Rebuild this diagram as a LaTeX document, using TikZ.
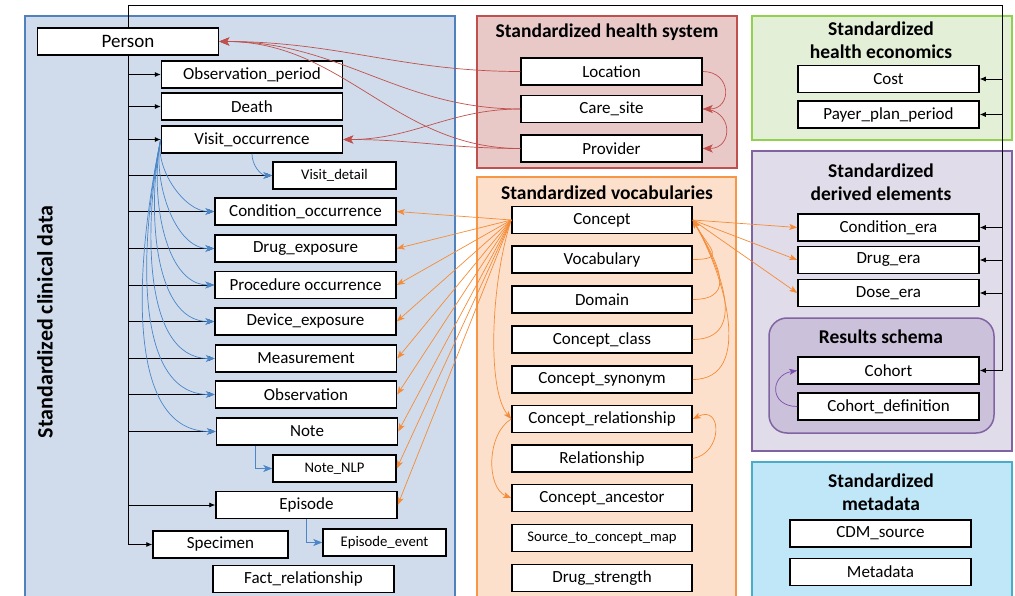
\documentclass[tikz,border=0pt]{standalone}
\usepackage{fontspec}
\setmainfont{Carlito}
\usetikzlibrary{arrows.meta}

\definecolor{clinfill}{HTML}{D0DCEC}
\definecolor{clinline}{HTML}{4F81BD}
\definecolor{hsfill}{HTML}{E9C9C8}
\definecolor{hsline}{HTML}{C0504D}
\definecolor{vocfill}{HTML}{FCE0CC}
\definecolor{vocline}{HTML}{F79646}
\definecolor{econfill}{HTML}{E3EFD7}
\definecolor{econline}{HTML}{92D050}
\definecolor{derfill}{HTML}{E1DCE9}
\definecolor{derline}{HTML}{8064A2}
\definecolor{resfill}{HTML}{CCC1DA}
\definecolor{metafill}{HTML}{C0E7F8}
\definecolor{metaline}{HTML}{4BACC6}
\definecolor{bluelink}{HTML}{4A86C8}
\definecolor{redlink}{HTML}{C0504D}
\definecolor{orlink}{HTML}{F58B36}
\definecolor{purlink}{HTML}{7A4FB0}

\tikzset{
  tbl/.style={draw=black, line width=1.5pt, fill=white, inner sep=0pt,
    minimum width=181pt, minimum height=27pt, font=\fontsize{17}{19}\selectfont},
  smalltbl/.style={tbl, minimum width=123pt, font=\fontsize{14.7}{16}\selectfont},
  grouptitle/.style={font=\bfseries\fontsize{19.5}{23}\selectfont, align=center},
  trunk/.style={black, line width=0.8pt},
  trunkarr/.style={trunk, -{Latex[length=6pt,width=5pt]}},
  bluelnk/.style={bluelink, line width=0.7pt, -{Stealth[length=9pt,width=7pt,inset=2.5pt]}},
  redlnk/.style={redlink, line width=0.7pt, -{Stealth[length=10pt,width=8pt,inset=2.5pt]}},
  orlnk/.style={orlink, line width=0.7pt, -{Stealth[length=8pt,width=6pt,inset=2pt]}},
  purlnk/.style={purlink, line width=0.7pt, -{Stealth[length=8pt,width=6pt,inset=2pt]}}
}

\begin{document}
\begin{tikzpicture}[x=1pt,y=-1pt]

\useasboundingbox (0,0) rectangle (1015,596);
\clip (0,0) rectangle (1015,596);

% group panels
\filldraw[fill=clinfill,draw=clinline,line width=1.5pt] (25,16) rectangle (455,605);
\filldraw[fill=hsfill,draw=hsline,line width=1.5pt] (477,16) rectangle (737,168);
\filldraw[fill=vocfill,draw=vocline,line width=1.5pt] (477,177) rectangle (736,605);
\filldraw[fill=econfill,draw=econline,line width=1.5pt] (752,16) rectangle (1012,140);
\filldraw[fill=derfill,draw=derline,line width=1.5pt] (752,151) rectangle (1012,451);
\filldraw[fill=resfill,draw=derline,line width=1.5pt,rounded corners=18pt] (769,318) rectangle (994,433);
\filldraw[fill=metafill,draw=metaline,line width=1.5pt] (752,462) rectangle (1012,605);

\node[grouptitle,font=\bfseries\fontsize{22}{24}\selectfont,rotate=90] (clintitle) at (45,322) {Standardized clinical data};
\node[grouptitle] (hstitle) at (607,32) {Standardized health system};
\node[grouptitle] (voctitle) at (607,193) {Standardized vocabularies};
\node[grouptitle] (econtitle) at (881,40) {Standardized\\health economics};
\node[grouptitle] (dertitle) at (881,182) {Standardized\\derived elements};
\node[grouptitle] (restitle) at (881,337) {Results schema};
\node[grouptitle] (metatitle) at (881,492) {Standardized\\metadata};

% clinical data tables
\node[tbl,font=\fontsize{19}{21}\selectfont] (person) at (128,41.5) {Person};
\node[tbl] (obsper) at (252,74.5) {Observation\_period};
\node[tbl] (death) at (252,106.5) {Death};
\node[tbl] (visitocc) at (252,139.5) {Visit\_occurrence};
\node[smalltbl] (visitdet) at (334.5,175.5) {Visit\_detail};
\node[tbl] (condocc) at (305.5,211.5) {Condition\_occurrence};
\node[tbl] (drugexp) at (305.5,248.5) {Drug\_exposure};
\node[tbl] (prococc) at (305.5,285) {Procedure occurrence};
\node[tbl] (devexp) at (305.5,321.5) {Device\_exposure};
\node[tbl] (meas) at (306,358.5) {Measurement};
\node[tbl] (obs) at (306,394.5) {Observation};
\node[tbl] (note) at (307,431.5) {Note};
\node[smalltbl] (notenlp) at (334.5,468.5) {Note\_NLP};
\node[tbl] (episode) at (306.5,505) {Episode};
\node[smalltbl] (epievent) at (384.5,542.5) {Episode\_event};
\node[tbl,minimum width=135pt] (specimen) at (220.5,544.5) {Specimen};
\node[tbl] (factrel) at (303.5,579) {Fact\_relationship};

% health system tables
\node[tbl] (location) at (611.5,71.5) {Location};
\node[tbl] (caresite) at (611.5,109) {Care\_site};
\node[tbl] (provider) at (611.5,148.5) {Provider};

% vocabulary tables
\node[tbl,minimum width=180pt] (concept) at (602,220) {Concept};
\node[tbl,minimum width=180pt] (vocabulary) at (602,259.5) {Vocabulary};
\node[tbl,minimum width=180pt] (domain) at (602,299.5) {Domain};
\node[tbl,minimum width=180pt] (conceptclass) at (602,339.5) {Concept\_class};
\node[tbl,minimum width=180pt] (conceptsyn) at (602,379.5) {Concept\_synonym};
\node[tbl,minimum width=180pt] (conceptrel) at (602,419) {Concept\_relationship};
\node[tbl,minimum width=180pt] (relationship) at (602,458.5) {Relationship};
\node[tbl,minimum width=180pt] (conceptanc) at (602,498) {Concept\_ancestor};
\node[smalltbl,minimum width=180pt] (srcmap) at (602,538) {Source\_to\_concept\_map};
\node[tbl,minimum width=180pt] (drugstr) at (602,578) {Drug\_strength};

% economics, derived, results, metadata tables
\node[tbl] (cost) at (888.5,79) {Cost};
\node[tbl] (payer) at (888.5,114.5) {Payer\_plan\_period};
\node[tbl] (condera) at (888.5,227.5) {Condition\_era};
\node[tbl] (drugera) at (888.5,260) {Drug\_era};
\node[tbl] (doseera) at (888.5,293) {Dose\_era};
\node[tbl] (cohort) at (888.5,370.5) {Cohort};
\node[tbl] (cohortdef) at (888.5,406.5) {Cohort\_definition};
\node[tbl] (cdm) at (880.5,533.5) {CDM\_source};
\node[tbl] (metadata) at (880.5,572) {Metadata};

% person_id links
\coordinate (tl) at (128,5);
\coordinate (tr) at (1002,5);
\draw[trunk] (tl) -- (person.north);
\draw[trunk] (person.south) -- (tl |- specimen.west);
\draw[trunk] (tl) -- (tr) -- (tr |- cohort.east);
\foreach \t in {obsper,death,visitocc,visitdet,condocc,drugexp,prococc,devexp,meas,obs,note,episode,specimen}
  \draw[trunkarr] (tl |- \t.west) -- (\t.west);
\foreach \t in {cost,payer,condera,drugera,doseera,cohort}
  \draw[trunkarr] (tr |- \t.east) -- (\t.east);

% visit links
\foreach \t in {condocc,drugexp,prococc,devexp,meas,obs,note}
  \draw[bluelnk] (visitocc.west) to[out=258,in=180,looseness=0.85] (\t.west);
\draw[bluelnk] (visitocc.south) to[out=-90,in=180] (visitdet.west);
\draw[bluelnk] ([xshift=-52pt]note.south) |- (notenlp.west);
\draw[bluelnk] (episode.south) |- (epievent.west);

% health system links
\draw[redlnk] (location.west) to[out=180,in=0] (person.east);
\draw[redlnk] (caresite.west) to[out=180,in=0] (person.east);
\draw[redlnk] (provider.west) to[out=180,in=0] (person.east);
\draw[redlnk] (caresite.west) to[out=180,in=0] (visitocc.east);
\draw[redlnk] (provider.west) to[out=180,in=0] (visitocc.east);
\draw[redlnk] (location.east) to[out=0,in=0,looseness=2] (caresite.east);
\draw[redlnk] (caresite.east) to[out=0,in=0,looseness=2] (provider.east);

% concept links
\foreach \t in {condocc,drugexp,prococc,devexp,meas,obs,note,notenlp,episode}
  \draw[orlnk] (concept.west) -- (\t.east);
\foreach \t in {condera,drugera,doseera}
  \draw[orlnk] (concept.east) -- (\t.west);
\draw[orlnk] (vocabulary.east) to[out=0,in=-60,looseness=2.2] (concept.east);
\draw[orlnk] (domain.east) to[out=0,in=-60,looseness=1.5] (concept.east);
\draw[orlnk] (conceptclass.east) to[out=0,in=-60,looseness=1.2] (concept.east);
\draw[orlnk] (conceptsyn.east) to[out=0,in=-60] (concept.east);
\draw[orlnk] (concept.west) .. controls +(-20,60) and +(-25,-30) .. (conceptrel.west);
\draw[orlnk] (conceptrel.west) .. controls +(-25,15) and +(-25,-10) .. (conceptanc.west);
\draw[orlnk] (relationship.east) .. controls +(30,-5) and +(30,-15) .. (conceptrel.east);

% cohort link
\draw[purlnk] (cohortdef.west) to[out=180,in=190,looseness=2] (cohort.west);

\end{tikzpicture}
\end{document}
